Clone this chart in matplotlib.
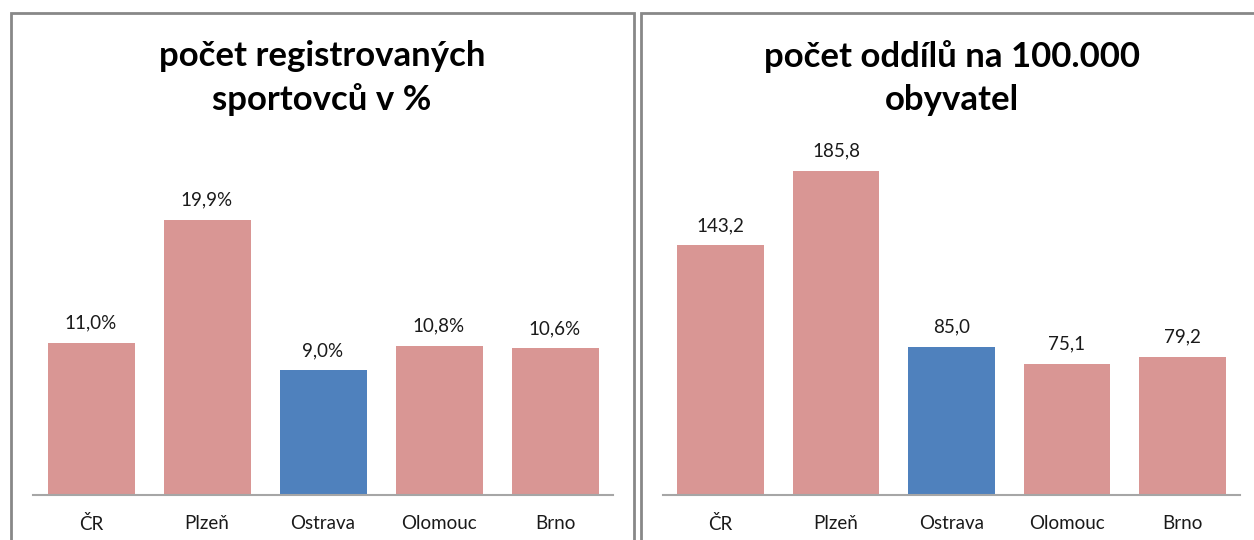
import matplotlib
matplotlib.use("Agg")
import matplotlib.pyplot as plt
from matplotlib.patches import Rectangle

categories = ["ČR", "Plzeň", "Ostrava", "Olomouc", "Brno"]
athletes_pct = [11.0, 19.9, 9.0, 10.8, 10.6]
clubs_per_100k = [143.2, 185.8, 85.0, 75.1, 79.2]
highlight = "Ostrava"

PINK = "#D99694"
BLUE = "#4F81BD"
BORDER = "#888888"
W, H = 1254, 540

plt.rcParams["font.family"] = ["Lato", "DejaVu Sans"]

fig = plt.figure(figsize=(W / 100, H / 100), dpi=100)
fig.patch.set_facecolor("white")


def px(x0, y_top, x1, y_bot):
    # pixel box -> figure fraction [left, bottom, width, height]
    return [x0 / W, 1 - y_bot / H, (x1 - x0) / W, (y_bot - y_top) / H]


# panel frames
for x0, x1 in [(11, 634), (641, 1260)]:
    fig.patches.append(Rectangle((x0 / W, -0.05), (x1 - x0) / W, 1.05 - 13 / H,
                                 transform=fig.transFigure, fill=False,
                                 edgecolor=BORDER, lw=2, zorder=0))


def panel(rect, values, ymax, fmt, title, title_x):
    ax = fig.add_axes(rect)
    colors = [BLUE if c == highlight else PINK for c in categories]
    bars = ax.bar(range(len(categories)), values, width=0.75, color=colors)
    ax.set_xlim(-0.5, len(categories) - 0.5)
    ax.set_ylim(0, ymax)
    for b, v in zip(bars, values):
        ax.annotate(fmt(v), (b.get_x() + b.get_width() / 2, v),
                    xytext=(0, 8), textcoords="offset points",
                    ha="center", va="bottom", fontsize=13.5, color="#1a1a1a")
    for s in ["top", "right", "left"]:
        ax.spines[s].set_visible(False)
    ax.spines["bottom"].set_color("#A6A6A6")
    ax.spines["bottom"].set_linewidth(1.5)
    ax.set_yticks([])
    ax.set_xticks(range(len(categories)))
    ax.set_xticklabels(categories, fontsize=13.5, color="#1a1a1a")
    ax.tick_params(axis="x", length=0, pad=14.5)
    fig.text(title_x / W, 1 - 78 / H, title, ha="center", va="center",
             fontsize=25, fontweight="bold", linespacing=1.43)
    return ax


panel(px(33, 149, 613, 495), athletes_pct, 25,
      lambda v: f"{v:.1f}%".replace(".", ","),
      "počet registrovaných\nsportovců v %", 322)
panel(px(663, 146, 1240, 495), clubs_per_100k, 200,
      lambda v: f"{v:.1f}".replace(".", ","),
      "počet oddílů na 100.000\nobyvatel", 952)

fig.savefig("out.png", dpi=100)
